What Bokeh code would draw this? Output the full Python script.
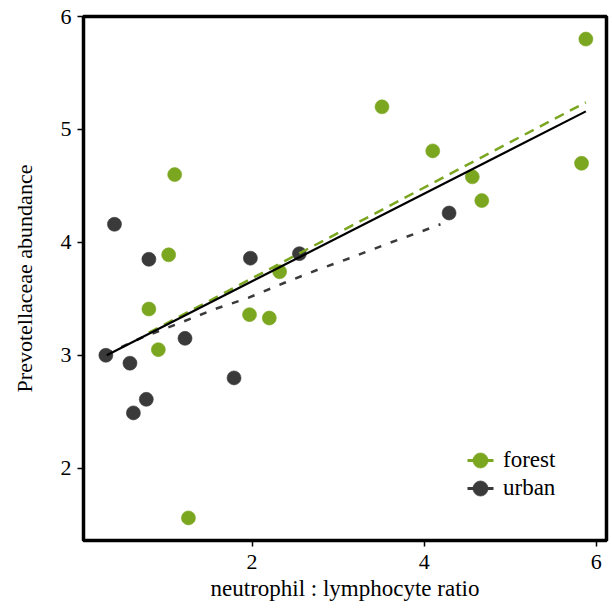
from bokeh.plotting import figure
from bokeh.models import FixedTicker, Legend, LegendItem, Range1d
from bokeh.embed import file_html
from bokeh.resources import INLINE

# ---- data ----
groups = ["forest", "urban"]

forest_x = [5.88, 3.51, 4.10, 5.83, 4.56, 4.67, 1.10, 1.03, 0.80, 0.91, 2.32, 1.97, 2.20, 1.26]
forest_y = [5.80, 5.20, 4.81, 4.70, 4.58, 4.37, 4.60, 3.89, 3.41, 3.05, 3.74, 3.36, 3.33, 1.56]

urban_x = [0.40, 0.80, 1.98, 2.55, 4.29, 0.30, 0.58, 1.22, 1.79, 0.77, 0.62]
urban_y = [4.16, 3.85, 3.86, 3.90, 4.26, 3.00, 2.93, 3.15, 2.80, 2.61, 2.49]

# fitted lines
fit_all_x = [0.31, 5.88]
fit_all_y = [3.00, 5.16]
fit_forest_x = [0.80, 5.88]
fit_forest_y = [3.20, 5.24]
fit_urban_x = [0.30, 0.73, 1.14, 1.57, 1.96, 2.37, 2.77, 3.17, 3.58, 3.98, 4.19]
fit_urban_y = [3.01, 3.16, 3.28, 3.41, 3.51, 3.64, 3.76, 3.87, 3.99, 4.10, 4.16]

x_ticks = [2, 4, 6]
y_ticks = [2, 3, 4, 5, 6]

x_title = "neutrophil : lymphocyte ratio"
y_title = "Prevotellaceae abundance"

GREEN = "#7ba61f"
DARK = "#3a3a3a"
FONT = "Liberation Serif"

p = figure(width=610, height=606,
           x_range=Range1d(0.04, 6.12), y_range=Range1d(1.36, 6.0),
           output_backend="svg", toolbar_location=None,
           min_border_left=83, min_border_right=4,
           min_border_top=16, min_border_bottom=66)

p.grid.visible = False
p.background_fill_color = "white"
p.border_fill_color = "white"
p.outline_line_color = "black"
p.outline_line_width = 3.5

p.xaxis.ticker = FixedTicker(ticks=x_ticks)
p.yaxis.ticker = FixedTicker(ticks=y_ticks)
for ax in (p.xaxis[0], p.yaxis[0]):
    ax.axis_line_color = None
    ax.major_tick_line_color = "black"
    ax.major_tick_line_width = 1.5
    ax.major_tick_out = 6
    ax.major_tick_in = 0
    ax.minor_tick_line_color = None
    ax.major_label_text_font = FONT
    ax.major_label_text_font_size = "22px"
    ax.major_label_text_color = "black"
    ax.axis_label_text_font = FONT
    ax.axis_label_text_font_style = "normal"
    ax.axis_label_text_color = "black"

p.xaxis.axis_label = x_title
p.yaxis.axis_label = y_title
p.xaxis.axis_label_text_font_size = "23px"
p.yaxis.axis_label_text_font_size = "22px"
p.xaxis.major_label_standoff = 8
p.xaxis.axis_label_standoff = 4
p.yaxis.major_label_standoff = 6
p.yaxis.axis_label_standoff = 21

sc_f = p.scatter(forest_x, forest_y, size=14, fill_color=GREEN, line_color=GREEN,
                 line_alpha=0.6, line_width=1)
sc_u = p.scatter(urban_x, urban_y, size=14, fill_color=DARK, line_color=DARK,
                 line_alpha=0.6, line_width=1)

p.line(fit_urban_x, fit_urban_y, line_color=DARK, line_width=2.5, line_dash="7 10")
p.line(fit_forest_x, fit_forest_y, line_color=GREEN, line_width=2.5, line_dash="10 7")
p.line(fit_all_x, fit_all_y, line_color="black", line_width=2.2)

# legend-only line keys (no visible data in the plot)
nan = float("nan")
leg_line_f = p.line([nan], [nan], line_color=GREEN, line_width=3, line_dash="0 6 26 6")
leg_line_u = p.line([nan], [nan], line_color=DARK, line_width=3, line_dash="0 6 26 6")

common = dict(glyph_width=38, glyph_height=38, spacing=0, padding=0, margin=0,
              label_standoff=4, border_line_color=None, background_fill_alpha=0,
              label_text_font=FONT, label_text_font_size="23px",
              label_text_color="black", label_height=38)
leg_f = Legend(items=[LegendItem(label=groups[0], renderers=[leg_line_f, sc_f])],
               location=(378, 61), **common)
leg_u = Legend(items=[LegendItem(label=groups[1], renderers=[leg_line_u, sc_u])],
               location=(378, 33), **common)
p.add_layout(leg_f)
p.add_layout(leg_u)

open("out.html", "w").write(file_html(p, INLINE))
